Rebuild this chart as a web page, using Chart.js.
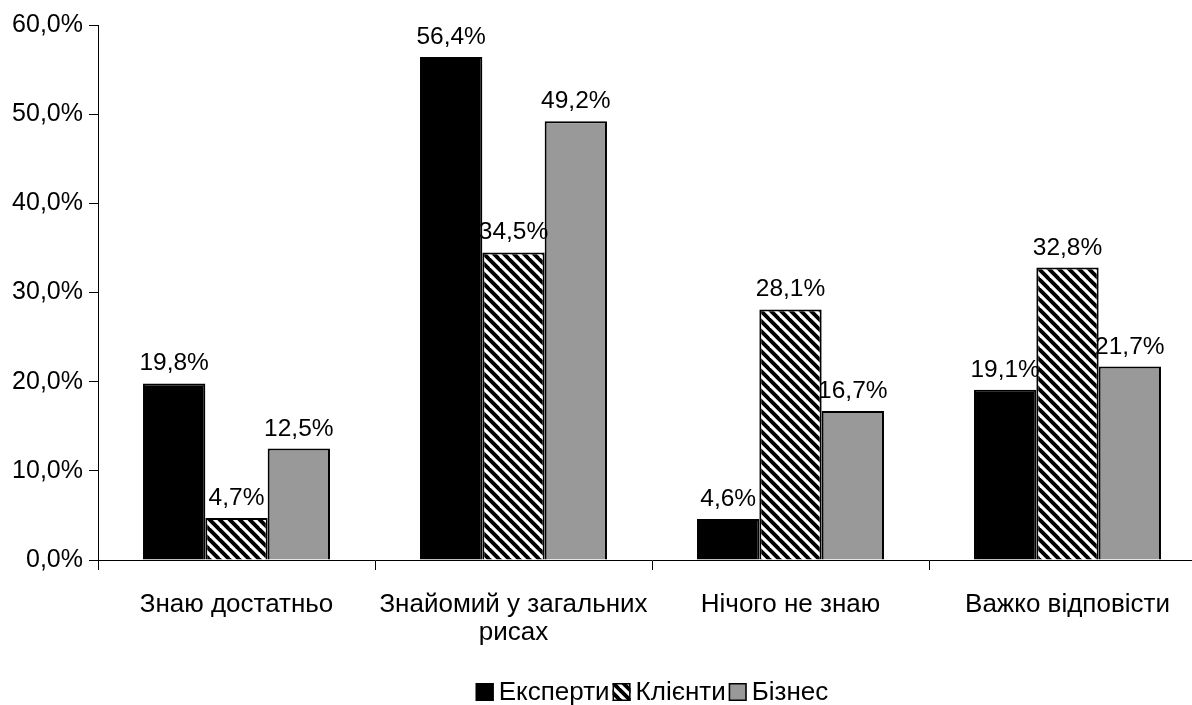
<!DOCTYPE html>
<html>
<head>
<meta charset="utf-8">
<script src="https://cdn.jsdelivr.net/npm/chart.js@4/dist/chart.umd.min.js"></script>
<style>
  html, body { margin: 0; padding: 0; background: #fff; overflow: hidden; }
</style>
</head>
<body>
<canvas id="awareness" width="1214" height="705"></canvas>
<script>
// Categories and series values
const categories = [
  "Знаю достатньо",
  ["Знайомий у загальних", "рисах"],
  "Нічого не знаю",
  "Важко відповісти",
];
const seriesNames = ["Експерти", "Клієнти", "Бізнес"];
const expertValues = [19.8, 56.4, 4.6, 19.1];
const clientValues = [4.7, 34.5, 28.1, 32.8];
const businessValues = [12.5, 49.2, 16.7, 21.7];

const fontFamily = '"Liberation Sans", Arial, sans-serif';

function formatPercent(value) {
  return value.toFixed(1).replace(".", ",") + "%";
}

// Diagonal hatch (top-left to bottom-right) for the second series
function makeHatch() {
  const size = 10;
  const c = document.createElement("canvas");
  c.width = size;
  c.height = size;
  const g = c.getContext("2d");
  g.fillStyle = "#fff";
  g.fillRect(0, 0, size, size);
  g.strokeStyle = "#000";
  g.lineWidth = 3.9;
  for (let k = -1; k <= 1; k++) {
    g.beginPath();
    g.moveTo(k * size - 2, -2);
    g.lineTo(k * size + size + 2, size + 2);
    g.stroke();
  }
  return g.createPattern(c, "repeat");
}

const hatch = makeHatch();
const fills = ["#000000", hatch, "#999999"];

// Percent labels above every bar
const valueLabels = {
  id: "valueLabels",
  afterDatasetsDraw(chart) {
    const ctx = chart.ctx;
    ctx.save();
    ctx.font = "24.5px " + fontFamily;
    ctx.fillStyle = "#000";
    ctx.textAlign = "center";
    ctx.textBaseline = "alphabetic";
    chart.data.datasets.forEach((ds, i) => {
      chart.getDatasetMeta(i).data.forEach((bar, j) => {
        ctx.fillText(formatPercent(ds.data[j]), bar.x, bar.y - 13);
      });
    });
    ctx.restore();
  },
};

// Legend row under the plot, centred on the plot area
const bottomLegend = {
  id: "bottomLegend",
  afterDraw(chart) {
    const ctx = chart.ctx;
    const box = 18;
    ctx.save();
    ctx.font = "26px " + fontFamily;
    const items = chart.data.datasets.map((ds) => ({
      text: ds.label,
      fill: ds.backgroundColor,
      w: ctx.measureText(ds.label).width,
    }));
    const total = items.reduce((s, it) => s + box + 5 + it.w + 3, 0) - 3;
    const area = chart.chartArea;
    let x = (area.left + area.right) / 2 - total / 2;
    const cy = 692;
    items.forEach((it) => {
      ctx.fillStyle = it.fill;
      ctx.fillRect(x, cy - box / 2, box, box);
      ctx.strokeStyle = "#000";
      ctx.lineWidth = 1.5;
      ctx.strokeRect(x + 0.75, cy - box / 2 + 0.75, box - 1.5, box - 1.5);
      x += box + 5;
      ctx.fillStyle = "#000";
      ctx.textBaseline = "middle";
      ctx.textAlign = "left";
      ctx.fillText(it.text, x, cy + 1);
      x += it.w + 3;
    });
    ctx.restore();
  },
};

const values = [expertValues, clientValues, businessValues];

new Chart(document.getElementById("awareness"), {
  type: "bar",
  data: {
    labels: categories,
    datasets: values.map((data, i) => ({
      label: seriesNames[i],
      data: data,
      backgroundColor: fills[i],
      borderColor: "#000",
      borderWidth: 2,
      categoryPercentage: 0.675,
      barPercentage: 1,
    })),
  },
  options: {
    responsive: false,
    animation: false,
    layout: { padding: { top: 25, right: 8, left: 0, bottom: 0 } },
    plugins: {
      legend: { display: false },
      tooltip: { enabled: false },
    },
    scales: {
      x: {
        grid: {
          offset: true,
          drawOnChartArea: false,
          drawTicks: true,
          tickLength: 10,
          color: "#000",
        },
        border: { display: true, color: "#000", width: 1 },
        ticks: {
          color: "#000",
          padding: 21,
          maxRotation: 0,
          autoSkip: false,
          font: { family: fontFamily, size: 26, lineHeight: 1.08 },
        },
        afterFit(scale) {
          scale.height = 145;
        },
      },
      y: {
        min: 0,
        max: 60,
        grid: {
          drawOnChartArea: false,
          drawTicks: true,
          tickLength: 9,
          color: "#000",
        },
        border: { display: true, color: "#000", width: 1 },
        ticks: {
          stepSize: 10,
          color: "#000",
          padding: 6,
          font: { family: fontFamily, size: 25 },
          callback: (v) => formatPercent(v),
        },
        afterFit(scale) {
          scale.width = 98;
        },
      },
    },
  },
  plugins: [valueLabels, bottomLegend],
});
</script>
</body>
</html>
